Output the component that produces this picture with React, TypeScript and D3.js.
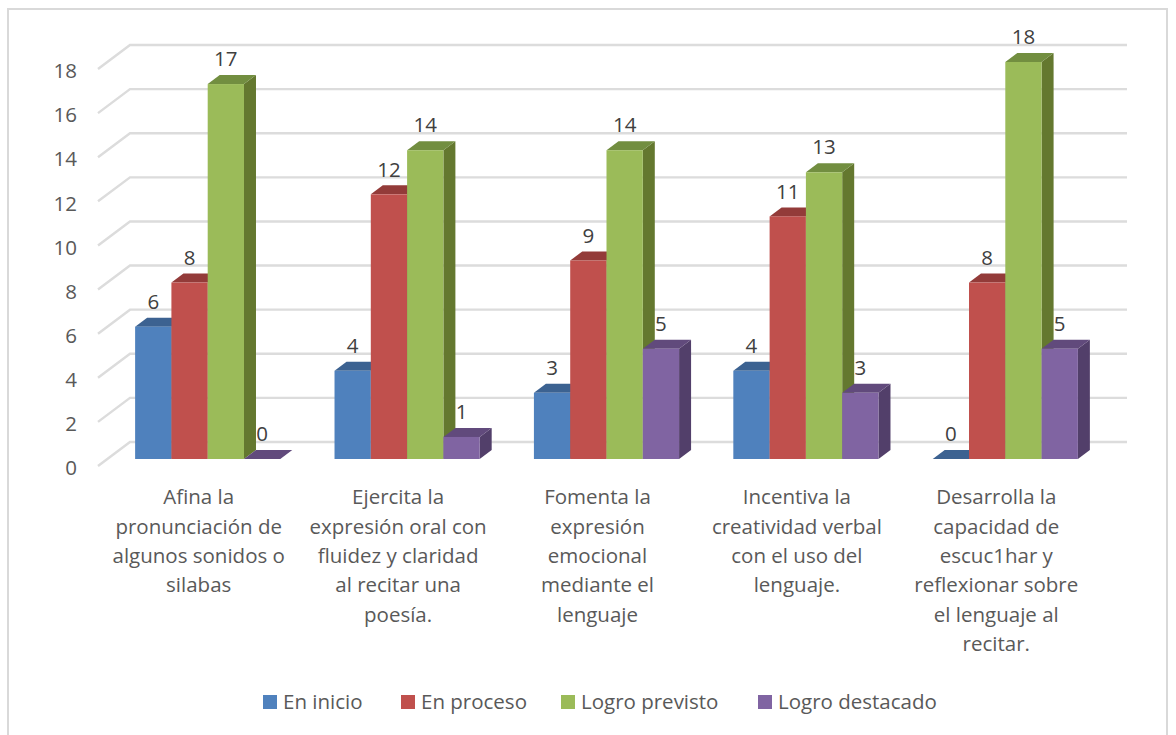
import React from 'react';
import * as d3 from 'd3';

const categories = ['c1', 'c2', 'c3', 'c4', 'c5'];
const categoryLines = [
  ['Afina la', 'pronunciación de', 'algunos sonidos o', 'silabas'],
  ['Ejercita la', 'expresión oral con', 'fluidez y claridad', 'al recitar una', 'poesía.'],
  ['Fomenta la', 'expresión', 'emocional', 'mediante el', 'lenguaje'],
  ['Incentiva la', 'creatividad verbal', 'con el uso del', 'lenguaje.'],
  ['Desarrolla la', 'capacidad de', 'escuc1har y', 'reflexionar sobre', 'el lenguaje al', 'recitar.'],
];
const seriesNames = ['En inicio', 'En proceso', 'Logro previsto', 'Logro destacado'];
const enInicio = [6, 4, 3, 4, 0];
const enProceso = [8, 12, 9, 11, 8];
const logroPrevisto = [17, 14, 14, 13, 18];
const logroDestacado = [0, 1, 5, 3, 5];
const seriesValues = [enInicio, enProceso, logroPrevisto, logroDestacado];
const frontColors = ['#4f81bd', '#c0504d', '#9bbb59', '#8064a2'];
const topColors = ['#3c6291', '#933b39', '#728e40', '#614a7c'];
const sideColors = ['#33547b', '#7d3230', '#64782f', '#523f6a'];
const legendX = [263, 401, 561, 758];

const font = '"Open Sans", sans-serif';
const fontSize = 20.5;
const textColor = '#595959';
const labelColor = '#404040';
const gridColor = '#dcdcdc';

// 3d offsets, as in the spreadsheet's clustered column
const depthX = 12;
const depthY = 9;
const wallY = 17;
const gridLeft = 130;
const gridRight = 1127;
const floorLeft = 98;

const y = d3.scaleLinear().domain([0, 18]).range([459, 62]);
const x0 = d3.scaleBand().domain(categories).range([108, 1105]).paddingInner(0.272).paddingOuter(0.136);
const x1 = d3.scaleBand().domain(seriesNames).range([0, x0.bandwidth()]);

const App: React.FC = () => {
  const w = x1.bandwidth();
  const base = y(0);

  return (
    <svg width={1176} height={735} style={{ position: 'absolute', left: 0, top: 0, background: '#fff' }} fontFamily={font}>
      <rect x={8} y={9} width={1159} height={740} fill="#fff" stroke="#d9d9d9" strokeWidth={2} />

      {y.ticks(9).map(t => (
        <g key={t}>
          <polyline
            points={`${floorLeft},${y(t) + 7} ${gridLeft},${y(t) - wallY} ${gridRight},${y(t) - wallY}`}
            fill="none"
            stroke={gridColor}
            strokeWidth={2.4}
          />
          <text x={77} y={y(t) + 9} dy="0.35em" textAnchor="end" fontSize={fontSize} fill={textColor}>{t}</text>
        </g>
      ))}

      {categories.map((c, ci) => (
        <g key={c} transform={`translate(${x0(c)},0)`}>
          {seriesNames.map((s, si) => {
            const v = seriesValues[si][ci];
            const bx = x1(s) as number;
            const top = y(v);
            return (
              <g key={s}>
                {v > 0 && (
                  <path d={`M${bx + w},${top}L${bx + w + depthX},${top - depthY}V${base - depthY}L${bx + w},${base}Z`} fill={sideColors[si]} />
                )}
                <path d={`M${bx},${top}L${bx + depthX},${top - depthY}H${bx + w + depthX}L${bx + w},${top}Z`} fill={topColors[si]} />
                {v > 0 && <rect x={bx} y={top} width={w} height={base - top} fill={frontColors[si]} />}
              </g>
            );
          })}
        </g>
      ))}

      {categories.map((c, ci) => (
        <g key={c} transform={`translate(${x0(c)},0)`}>
          {seriesNames.map((s, si) => {
            const v = seriesValues[si][ci];
            return (
              <text key={s} x={(x1(s) as number) + w / 2} y={y(v) - 25} dy="0.35em" textAnchor="middle" fontSize={fontSize} fill={labelColor}>{v}</text>
            );
          })}
        </g>
      ))}

      {categories.map((c, ci) => (
        <text key={c} textAnchor="middle" fontSize={fontSize} fill={textColor}>
          {categoryLines[ci].map((line, li) => (
            <tspan key={li} x={(x0(c) as number) + x0.bandwidth() / 2 - 9} y={497 + li * 29.4} dy="0.35em">{line}</tspan>
          ))}
        </text>
      ))}

      {seriesNames.map((s, si) => (
        <g key={s}>
          <rect x={legendX[si]} y={695} width={14} height={14} fill={frontColors[si]} />
          <text x={legendX[si] + 20} y={702} dy="0.35em" fontSize={fontSize} fill={textColor}>{s}</text>
        </g>
      ))}
    </svg>
  );
};

export default App;
